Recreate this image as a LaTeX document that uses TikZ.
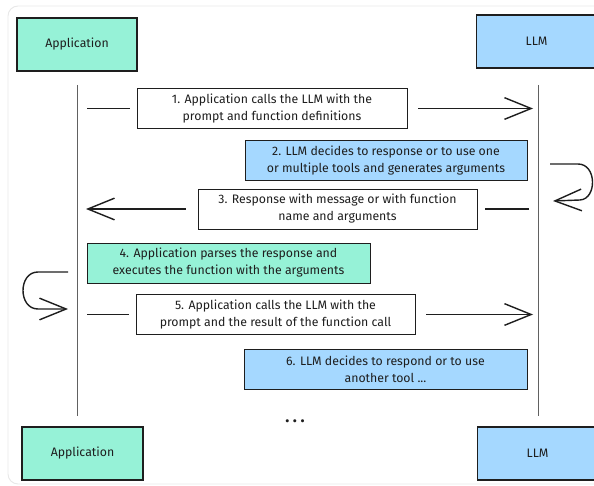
\documentclass[tikz,border=0pt]{standalone}
\usepackage{fontspec}
\setmainfont{Fira Sans}
\usepackage{xcolor}
\usepackage{tikz}
\usetikzlibrary{arrows.meta}
\usetikzlibrary{positioning, calc}

\definecolor{appgreen}{HTML}{96F2D7}
\definecolor{llmblue}{HTML}{A5D8FF}
\definecolor{ink}{HTML}{1E1E1E}

\tikzset{
    actor/.style={draw=ink, line width=1.3pt, minimum height=1.59cm, inner sep=0pt,
        text=ink, font=\fontsize{10.5}{12}\selectfont},
    msgbox/.style={draw=ink, line width=0.8pt, align=center, minimum height=1.2cm,
        inner sep=0pt, text=ink, font=\fontsize{10.5}{14.5}\selectfont},
    msgline/.style={draw=ink, line width=1.2pt},
    msgarrow/.style={msgline, -{Straight Barb[length=8mm, width=6.5mm]}},
    lifeline/.style={draw=ink!70, line width=0.8pt}
}

\begin{document}
\begin{tikzpicture}[x=0.03cm, y=-0.03cm]
                \useasboundingbox (0,0) rectangle (594,486);
                % outer frame
                \draw[gray!18, line width=0.8pt, rounded corners=0.3cm] (8,6) rectangle (640,484);

                % actors
                \node[actor, fill=appgreen, minimum width=3.6cm] (apptop) at (77,44.5) {Application};
                \node[actor, fill=llmblue, minimum width=3.6cm] (llmtop) at (536.5,41.5) {LLM};
                \node[actor, fill=appgreen, minimum width=3.63cm] (appbot) at (82.5,453.5) {Application};
                \node[actor, fill=llmblue, minimum width=3.6cm] (llmbot) at (537.5,453.5) {LLM};

                % lifelines
                \coordinate (appline) at (77,85);
                \coordinate (append) at (77,416);
                \coordinate (llmline) at (538,85);
                \coordinate (llmend) at (538,416);
                \draw[lifeline] (appline) -- (append);
                \draw[lifeline] (llmline) -- (llmend);

                % messages
                \node[msgbox, fill=white, minimum width=8.1cm] (m1) at (272,108.5)
                    {1. Application calls the LLM with the\\prompt and function definitions};
                \node[msgbox, fill=llmblue, minimum width=8.46cm] (m2) at (386,160.5)
                    {2. LLM decides to response or to use one\\or multiple tools and generates arguments};
                \node[msgbox, fill=white, minimum width=8.37cm] (m3) at (337.5,209)
                    {3. Response with message or with function\\name and arguments};
                \node[msgbox, fill=appgreen, minimum width=8.49cm] (m4) at (228.5,263)
                    {4. Application parses the response and\\executes the function with the arguments};
                \node[msgbox, fill=white, minimum width=8.37cm] (m5) at (275.5,314.5)
                    {5. Application calls the LLM with the\\prompt and the result of the function call};
                \node[msgbox, fill=llmblue, minimum width=8.49cm] (m6) at (385.5,369.5)
                    {6. LLM decides to respond or to use\\another tool ...};

                % connectors
                \draw[msgline, shorten <=0.3cm, shorten >=0.21cm] (appline |- m1) -- (m1.west);
                \draw[msgarrow, shorten <=0.33cm, shorten >=0.15cm] (m1.east) -- (llmline |- m1);
                \draw[msgline, shorten <=0.27cm, shorten >=0.24cm] (llmline |- m3) -- (m3.east);
                \draw[msgarrow, shorten <=0.36cm, shorten >=0.27cm] (m3.west) -- (appline |- m3);
                \draw[msgline, shorten <=0.3cm, shorten >=0.21cm] (appline |- m5) -- (m5.west);
                \draw[msgarrow, shorten <=0.33cm, shorten >=0.15cm] (m5.east) -- (llmline |- m5);

                % self calls
                \coordinate (rloopa) at (550,164);
                \coordinate (rloopb) at (553,201);
                \draw[msgarrow] (rloopa) -- (578,164) .. controls (597,164) and (597,199) .. (580,200) -- (rloopb);
                \coordinate (lloopa) at (68,272);
                \coordinate (lloopb) at (68,309);
                \draw[msgarrow] (lloopa) -- (38,272) .. controls (18,272) and (18,309) .. (38,309) -- (lloopb);

                \node[font=\Large\bfseries, text=ink] (dots) at (295,421) {.\hspace{3pt}.\hspace{3pt}.};
            \end{tikzpicture}
\end{document}
